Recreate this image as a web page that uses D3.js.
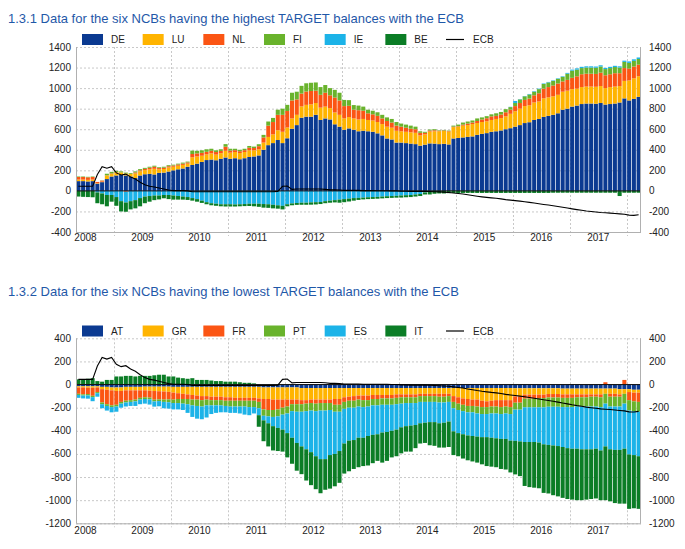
<!DOCTYPE html>
<html><head><meta charset="utf-8">
<script src="https://cdn.jsdelivr.net/npm/d3@7"></script>
<style>
body{margin:0;background:#fff;}
svg{display:block;font-family:"Liberation Sans",Arial,sans-serif;}
</style>
</head><body>
<svg id="chart" width="685" height="549"></svg>
<script>
// Monthly data, May 2008 – Mar 2018 (EUR bn)
const firstMonth = "2008-05";
const years = [2008,2009,2010,2011,2012,2013,2014,2015,2016,2017];
const topTicks = [1400,1200,1000,800,600,400,200,0,-200,-400];
const bottomTicks = [400,200,0,-200,-400,-600,-800,-1000,-1200];

const topKeys = ["DE","LU","NL","FI","IE","BE"];
const bottomKeys = ["AT","GR","FR","PT","ES","IT"];

const DE = [95,95,92,95,70,85,115,140,150,155,
150,140,125,150,162,165,160,175,178,188,
200,210,218,235,252,265,282,300,305,298,
312,325,312,318,308,318,330,335,345,400,
445,465,495,465,512,605,640,712,722,722,
740,690,705,695,648,625,595,608,595,580,
585,580,575,560,540,510,500,470,470,465,
460,455,440,450,462,460,455,458,452,510,
515,520,525,530,545,555,562,575,580,588,
600,610,625,640,660,668,690,700,720,730,
740,755,790,800,820,830,845,850,850,848,
855,840,845,850,860,900,880,895,915];
const LU = [15,15,15,15,5,5,35,25,30,25,
20,25,45,40,40,45,55,35,35,40,
35,35,35,30,75,70,60,55,60,55,
55,65,60,60,60,60,65,60,60,70,
80,85,95,110,105,100,100,110,115,120,
115,120,115,110,115,115,110,110,110,115,
115,110,110,110,110,115,115,115,110,110,
110,110,100,100,115,120,125,125,125,110,
110,115,115,120,115,115,115,115,120,120,
125,140,150,160,165,165,170,170,180,180,
180,180,175,175,170,165,165,165,165,165,
165,160,165,165,160,170,195,200,200];
const NL = [25,25,25,25,12,10,2,5,3,0,
-8,0,10,10,12,15,20,12,12,12,
12,12,12,12,32,30,28,25,25,25,
22,40,20,18,18,18,25,22,30,50,
110,120,150,165,160,175,150,125,130,130,
120,125,135,125,145,140,120,110,85,90,
80,65,60,60,55,55,50,50,45,40,
35,35,25,15,10,10,5,5,5,5,
5,10,15,15,20,25,30,35,30,35,
40,40,50,55,60,65,70,80,95,100,
105,110,100,105,110,120,125,125,125,125,
130,125,125,130,125,125,115,115,113];
const FI = [5,5,5,5,0,2,15,15,12,10,
8,8,10,12,10,10,10,8,10,10,
8,8,10,8,33,25,25,25,20,17,
16,25,18,14,14,14,17,14,19,25,
40,40,50,60,60,75,75,75,80,80,
80,75,75,70,75,75,60,55,45,45,
40,35,35,35,35,35,35,35,30,30,
30,25,15,10,10,10,5,5,5,10,
15,20,20,20,25,20,20,20,25,25,
30,25,30,35,35,40,35,40,45,45,
45,45,45,60,70,65,60,60,60,60,
60,60,60,60,55,60,55,55,55];
const IE = [0,0,0,0,-15,-25,-40,-40,-60,-100,
-105,-100,-90,-70,-55,-50,-45,-45,-40,-40,
-45,-50,-55,-60,-70,-80,-95,-110,-120,-125,
-130,-130,-130,-132,-130,-128,-125,-125,-125,-128,
-130,-135,-140,-145,-130,-122,-118,-115,-115,-112,
-110,-108,-100,-95,-90,-85,-80,-75,-70,-68,
-65,-62,-60,-58,-55,-52,-50,-48,-45,-42,
-40,-35,-30,-15,-5,0,0,0,0,0,
0,0,0,0,0,0,0,0,0,0,
0,3,20,3,3,5,5,5,5,5,
5,5,5,8,10,12,12,12,12,12,
12,12,12,12,12,12,15,15,15];
const BE = [-55,-58,-60,-62,-105,-105,-110,-65,-85,-100,
-90,-80,-80,-80,-65,-55,-45,-38,-32,-40,
-40,-35,-30,-28,-25,-25,-22,-20,-20,-20,
-20,-22,-22,-20,-20,-20,-22,-25,-30,-35,
-35,-35,-33,-35,-20,-18,-18,-20,-20,-22,
-22,-20,-20,-20,-22,-30,-30,-28,-25,-20,
-18,-18,-18,-18,-18,-18,-18,-18,-20,-20,
-20,-20,-20,-20,-30,-28,-25,-25,-22,-20,
-20,-20,-20,-20,-20,-20,-20,-20,-20,-20,
-20,-20,-20,-20,-20,-20,-20,-20,-20,-20,
-18,-18,-18,-18,-18,-18,-18,-18,-18,-18,
-18,-18,-18,-18,-50,-18,-18,-18,-18];

const AT = [-15,-15,-15,-15,-15,-20,-20,-25,-25,-25,
-20,-20,-20,-20,-18,-18,-18,-18,-18,-18,
-20,-20,-20,-20,-20,-20,-20,-20,-20,-20,
-20,-20,-20,-20,-20,-20,-20,-20,-20,-25,
-25,-25,-25,-25,-25,-25,-25,-30,-30,-30,
-30,-30,-30,-30,-30,-30,-30,-30,-30,-30,
-30,-30,-30,-30,-30,-30,-30,-30,-30,-30,
-30,-30,-30,-30,-30,-30,-30,-30,-30,-30,
-30,-30,-30,-30,-30,-30,-30,-30,-30,-30,
-30,-30,-32,-32,-32,-32,-32,-32,-32,-32,
-32,-32,-35,-35,-35,-35,-35,-35,-35,-35,
-35,-35,-35,-35,-40,-40,-40,-45,-45];
const GR = [-10,-10,-12,-12,-10,-20,-25,-25,-30,-30,
-30,-30,-30,-30,-32,-35,-38,-40,-42,-45,
-50,-55,-60,-65,-70,-75,-80,-80,-85,-85,
-85,-90,-90,-95,-95,-95,-95,-95,-100,-100,
-100,-105,-105,-105,-105,-105,-105,-105,-105,-100,
-100,-100,-100,-100,-95,-95,-80,-75,-70,-65,
-65,-65,-60,-60,-60,-60,-60,-55,-55,-55,
-55,-55,-50,-50,-50,-50,-50,-50,-50,-70,
-80,-90,-95,-100,-100,-110,-115,-110,-105,-105,
-105,-105,-70,-70,-55,-55,-55,-55,-55,-50,
-50,-50,-50,-50,-50,-50,-50,-50,-50,-50,
-50,-45,-45,-45,-45,-40,-25,-25,-25];
const FR = [-55,-60,-55,-70,-40,-115,-125,-130,-120,-95,
-90,-85,-80,-65,-60,-60,-75,-70,-70,-65,
-60,-50,-45,-40,-40,-35,-35,-30,-30,-30,
-30,-30,-30,-25,-25,-25,-25,-25,-30,-90,
-95,-90,-85,-70,-60,-40,-40,-35,-30,-30,
-35,-30,-30,-30,-50,-50,-40,-35,-40,-35,
-40,-40,-35,-35,-30,-30,-30,-30,-25,-25,
-25,-25,-20,-20,-20,-20,-25,-25,-20,-50,
-55,-55,-60,-55,-60,-55,-50,-50,-55,-60,
-55,-60,-55,-55,-35,-35,-35,-30,-30,-30,
-30,-30,-30,-30,-30,-25,-25,-25,-20,-20,
-25,20,-25,-25,-20,40,-70,-75,-80];
const PT = [-10,-10,-12,-12,-10,-15,-15,-15,-15,-15,
-15,-15,-15,-15,-15,-15,-15,-15,-20,-25,
-30,-35,-40,-45,-50,-55,-55,-50,-45,-45,
-45,-45,-50,-50,-50,-50,-55,-55,-55,-55,
-55,-60,-60,-60,-60,-60,-65,-65,-65,-65,
-65,-65,-65,-60,-60,-60,-60,-60,-60,-60,
-60,-55,-55,-55,-55,-55,-55,-55,-55,-50,
-50,-50,-50,-50,-50,-50,-50,-50,-50,-55,
-55,-55,-55,-55,-60,-60,-60,-60,-60,-60,
-60,-60,-60,-60,-75,-75,-75,-80,-80,-80,
-80,-80,-80,-80,-80,-80,-80,-80,-85,-85,
-85,-85,-85,-85,-85,-85,-90,-85,-85];
const ES = [-25,-25,-28,-35,-30,-35,-40,-45,-45,-35,
-35,-35,-40,-40,-40,-45,-45,-45,-55,-55,
-55,-55,-55,-75,-100,-110,-110,-105,-75,-65,
-60,-55,-55,-55,-60,-70,-70,-55,-60,-40,
-60,-80,-100,-130,-170,-230,-270,-300,-330,-360,
-390,-420,-420,-390,-365,-340,-300,-285,-280,-270,
-265,-255,-255,-250,-240,-235,-225,-220,-205,-200,
-195,-190,-185,-180,-175,-175,-180,-175,-170,-200,
-200,-200,-200,-205,-200,-200,-200,-210,-215,-215,
-220,-230,-270,-275,-300,-300,-300,-305,-320,-330,
-335,-340,-345,-355,-360,-365,-370,-370,-370,-365,
-375,-370,-370,-375,-375,-390,-380,-380,-385];
const IT = [45,45,50,55,30,25,40,40,70,70,
75,75,70,75,75,75,80,85,85,70,
70,60,55,50,55,40,40,40,35,30,
30,25,25,25,20,15,15,10,-100,-180,
-200,-210,-200,-190,-210,-225,-240,-240,-270,-285,
-285,-295,-265,-290,-280,-275,-260,-265,-250,-255,
-245,-255,-245,-230,-260,-250,-230,-230,-225,-220,
-225,-200,-175,-175,-200,-205,-210,-215,-220,-205,
-200,-210,-215,-220,-225,-235,-250,-250,-250,-260,
-265,-275,-290,-300,-380,-390,-395,-395,-420,-420,
-430,-435,-440,-440,-440,-445,-440,-435,-430,-430,
-430,-465,-450,-460,-465,-475,-470,-460,-455];

const ECB = [45,45,45,45,160,235,220,235,175,155,
163,135,115,85,60,45,38,28,18,8,
3,3,3,0,-8,-8,-8,-8,-8,-8,
-8,-8,-8,-8,-8,-8,-8,-8,-8,-8,
-8,-8,-5,45,48,15,18,18,18,18,
18,18,15,10,10,8,5,5,5,5,
3,3,3,2,2,2,0,0,-3,-3,
-5,-5,-5,-5,-6,-8,-10,-12,-15,-20,
-25,-30,-38,-45,-52,-58,-63,-68,-72,-78,
-85,-90,-95,-100,-106,-112,-118,-125,-132,-138,
-145,-152,-160,-167,-175,-182,-188,-195,-200,-205,
-210,-213,-216,-220,-224,-228,-236,-238,-232];

const colors = {
  DE:"#0b3a91", LU:"#ffb400", NL:"#fb5514", FI:"#69b32c", IE:"#1cb3e8", BE:"#0b7d26",
  AT:"#0b3a91", GR:"#ffb400", FR:"#fb5514", PT:"#69b32c", ES:"#1cb3e8", IT:"#0b7d26"
};

const N = DE.length;
const start = d3.timeParse("%Y-%m")(firstMonth);
const months = d3.range(N).map(i => d3.timeMonth.offset(start, i));

const svg = d3.select("#chart");
const X0 = 76, X1 = 641;
const x = d3.scaleBand().domain(d3.range(N)).range([X0, X1]).paddingInner(0);
const xl = d3.scaleLinear().domain([0, N]).range([X0, X1]);
const monthIndexOf = (yr, m) => (yr - start.getFullYear()) * 12 + (m - start.getMonth());

function panel(cfg) {
  const g = svg.append("g");
  const y = d3.scaleLinear().domain(cfg.domain).range([cfg.bottom, cfg.top]);

  // title
  g.append("text").attr("x", 8).attr("y", cfg.titleY)
    .attr("font-size", 13).attr("fill", "#1f58a8").text(cfg.title);

  // legend
  const keys = cfg.keys;
  keys.forEach((k, j) => {
    const lx = 82 + j * 60.67;
    g.append("rect").attr("x", lx).attr("y", cfg.legendY - 5.5).attr("width", 21).attr("height", 11)
      .attr("fill", colors[k]);
    g.append("text").attr("x", lx + 29).attr("y", cfg.legendY).attr("dy", "0.35em")
      .attr("font-size", 10).attr("fill", "#222").text(k);
  });
  const ex = 82 + 6 * 60.67;
  g.append("line").attr("x1", ex).attr("x2", ex + 18).attr("y1", cfg.legendY).attr("y2", cfg.legendY)
    .attr("stroke", "#000").attr("stroke-width", 1.2);
  g.append("text").attr("x", ex + 27).attr("y", cfg.legendY).attr("dy", "0.35em")
    .attr("font-size", 10).attr("fill", "#222").text("ECB");

  // horizontal grid
  g.append("g").selectAll("line").data(cfg.ticks).join("line")
    .attr("x1", X0).attr("x2", X1).attr("y1", d => y(d) + 0.5).attr("y2", d => y(d) + 0.5)
    .attr("stroke", "#c8c8c8").attr("stroke-dasharray", "2,2");
  // vertical year grid
  const gridYears = years.map(v => v + 1);
  g.append("g").selectAll("line").data(gridYears).join("line")
    .attr("x1", d => Math.round(xl(monthIndexOf(d, 0))) + 0.5)
    .attr("x2", d => Math.round(xl(monthIndexOf(d, 0))) + 0.5)
    .attr("y1", cfg.top).attr("y2", cfg.bottom + 4)
    .attr("stroke", "#c8c8c8").attr("stroke-dasharray", "2,2");

  // stacked bars
  const rows = d3.range(N).map(i => {
    const o = {i};
    keys.forEach(k => o[k] = cfg.data[k][i]);
    return o;
  });
  const series = d3.stack().keys(keys).offset(d3.stackOffsetDiverging)(rows);
  const bw = x.bandwidth();
  g.append("g").selectAll("g").data(series).join("g")
    .attr("fill", s => colors[s.key])
    .selectAll("rect").data(s => s.filter(d => d[0] !== d[1])).join("rect")
    .attr("x", d => x(d.data.i) + 0.35)
    .attr("width", bw - 0.7)
    .attr("y", d => y(Math.max(d[0], d[1])))
    .attr("height", d => Math.abs(y(d[0]) - y(d[1])));

  // zero line
  g.append("line").attr("x1", X0).attr("x2", X1).attr("y1", y(0)).attr("y2", y(0))
    .attr("stroke", "#111").attr("stroke-width", 1);

  // ECB line
  const line = d3.line().x((d, i) => xl(i + 0.5)).y(d => y(d));
  g.append("path").datum(ECB).attr("d", line).attr("fill", "none")
    .attr("stroke", "#000").attr("stroke-width", 1.1);

  // frame
  g.append("line").attr("x1", X0 + 0.5).attr("x2", X0 + 0.5).attr("y1", cfg.top).attr("y2", cfg.bottom)
    .attr("stroke", "#b0b0b0");
  g.append("line").attr("x1", X1 - 0.5).attr("x2", X1 - 0.5).attr("y1", cfg.top).attr("y2", cfg.bottom)
    .attr("stroke", "#b0b0b0");
  g.append("line").attr("x1", X0).attr("x2", X1).attr("y1", cfg.bottom + 0.5).attr("y2", cfg.bottom + 0.5)
    .attr("stroke", "#b0b0b0");

  // y labels, both sides
  const yl = g.append("g").attr("font-size", 10).attr("fill", "#222");
  yl.selectAll("text.l").data(cfg.ticks).join("text").attr("class", "l")
    .attr("x", 71).attr("y", d => y(d)).attr("dy", "0.35em").attr("text-anchor", "end").text(d => d);
  yl.selectAll("text.r").data(cfg.ticks).join("text").attr("class", "r")
    .attr("x", 649).attr("y", d => y(d)).attr("dy", "0.35em").attr("text-anchor", "start").text(d => d);

  // x labels (centred on each calendar year)
  g.append("g").attr("font-size", 10).attr("fill", "#222")
    .selectAll("text").data(years).join("text")
    .attr("x", d => Math.max(xl(monthIndexOf(d, 6)), 85))
    .attr("y", cfg.xLabelY).attr("text-anchor", "middle").text(d => d);
}

panel({
  title: "1.3.1 Data for the six NCBs having the highest TARGET balances with the ECB",
  titleY: 22.5, legendY: 39.5, top: 47, bottom: 232, domain: [-400, 1400], ticks: topTicks,
  keys: topKeys, data: {DE, LU, NL, FI, IE, BE}, xLabelY: 241
});
panel({
  title: "1.3.2 Data for the six NCBs having the lowest TARGET balances with the ECB",
  titleY: 295.5, legendY: 331, top: 338.3, bottom: 523.3, domain: [-1200, 400], ticks: bottomTicks,
  keys: bottomKeys, data: {AT, GR, FR, PT, ES, IT}, xLabelY: 533.5
});
</script>
</body></html>
